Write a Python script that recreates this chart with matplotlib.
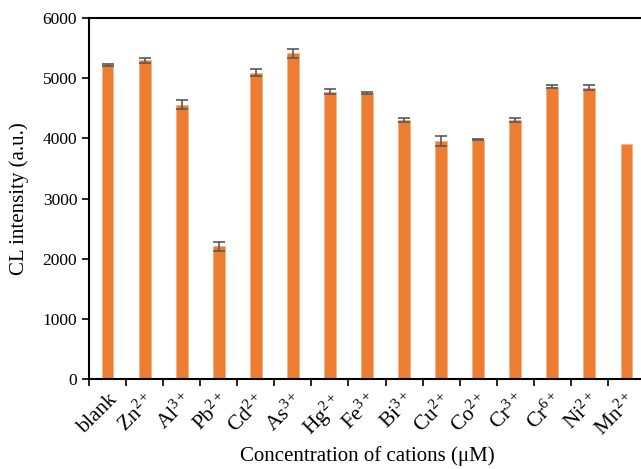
import numpy as np
import matplotlib.pyplot as plt

plt.rcParams['font.family'] = ['Liberation Serif', 'DejaVu Serif']
plt.rcParams['mathtext.fontset'] = 'custom'
plt.rcParams['mathtext.rm'] = 'Liberation Serif'
plt.rcParams['mathtext.it'] = 'Liberation Serif:italic'

## Data
cations = ['blank', 'Zn$^{2+}$', 'Al$^{3+}$', 'Pb$^{2+}$', 'Cd$^{2+}$', 'As$^{3+}$', 'Hg$^{2+}$',
           'Fe$^{3+}$', 'Bi$^{3+}$', 'Cu$^{2+}$', 'Co$^{2+}$', 'Cr$^{3+}$', 'Cr$^{6+}$', 'Ni$^{2+}$', 'Mn$^{2+}$']
intensity = [5220, 5300, 4560, 2205, 5090, 5410, 4775, 4755, 4305, 3960, 3980, 4305, 4860, 4840, 3910]
errors = [20, 40, 80, 70, 60, 70, 40, 20, 40, 80, 15, 30, 25, 40, 0]
y_ticks = [0, 1000, 2000, 3000, 4000, 5000, 6000]

fig = plt.figure(figsize=(6.41, 4.69), dpi=100)
ax = fig.add_axes([89/641, 90/469, 556/641, 361/469])

x = np.arange(len(cations))
# no error bar drawn where the error is zero
err = np.where(np.array(errors) > 0, errors, np.nan)
ax.bar(x, intensity, width=0.32, color='#ED7D31', edgecolor='#F4B183', linewidth=0.6)
ax.errorbar(x, intensity, yerr=err, fmt='none', ecolor='#595959', elinewidth=1.2,
            capsize=4, capthick=1.2)

ax.set_xlim(-0.5, len(cations) - 0.5)
ax.set_ylim(0, 6000)
ax.set_yticks(y_ticks)
ax.tick_params(axis='y', labelsize=12.5, direction='out', length=5, width=1.2)

## labels at bar centers, tick marks between categories
ax.set_xticks(x)
ax.set_xticklabels(cations, rotation=45, ha='right', rotation_mode='anchor', fontsize=15.5)
ax.tick_params(axis='x', which='major', length=0, pad=8)
ax.set_xticks(np.arange(-0.5, len(cations), 1), minor=True)
ax.tick_params(axis='x', which='minor', direction='out', length=5, width=1.2)

for s in ['left', 'bottom', 'top']:
    ax.spines[s].set_linewidth(1.5)
ax.spines['right'].set_visible(False)

ax.set_ylabel('CL intensity (a.u.)', fontsize=15, labelpad=10)
ax.set_xlabel('Concentration of cations (μM)', fontsize=15)
ax.xaxis.set_label_coords(0.5, -0.185)

plt.savefig('out.png', dpi=100)
